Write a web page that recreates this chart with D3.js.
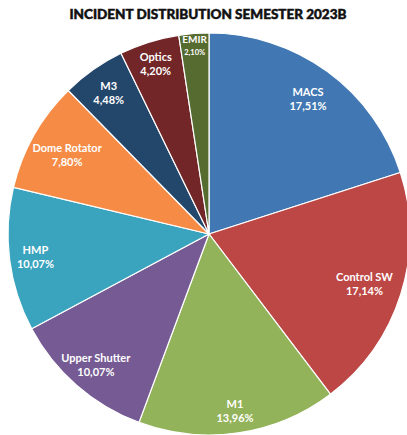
<!DOCTYPE html>
<html lang="en">
<head>
    <meta charset="UTF-8">
    <title>Incident distribution</title>
    <style>
        body { margin: 0; background: #fff; }
        #title {
            font-family: Lato, "DejaVu Sans", sans-serif;
            font-weight: 900;
            font-size: 13.5px;
            fill: #111;
            stroke: #111;
            stroke-width: 0.5;
            text-anchor: middle;
        }
        .slice { stroke: #fff; stroke-width: 1.2; }
        .lbl {
            font-family: Lato, "Open Sans", sans-serif;
            font-weight: bold;
            font-size: 11px;
            fill: #fff;
            text-anchor: middle;
        }
    </style>
</head>
<body>
<div id="chart"></div>
<script src="https://cdn.jsdelivr.net/npm/d3@7"></script>
<script>
    // data (percentages as shown, pie is normalised to their sum)
    let categories = ["MACS", "Control SW", "M1", "Upper Shutter", "HMP", "Dome Rotator", "M3", "Optics", "EMIR"];
    let values = [17.51, 17.14, 13.96, 10.07, 10.07, 7.80, 4.48, 4.20, 2.10];
    let valueLabels = ["17,51%", "17,14%", "13,96%", "10,07%", "10,07%", "7,80%", "4,48%", "4,20%", "2,10%"];
    let colors = ["#4177b2", "#bd4745", "#93b35a", "#765a94", "#3aa3be", "#f68b45", "#23466b", "#722628", "#556b2f"];

    function drawPie(id) {
        let W = 407, H = 435;
        let cx = 209, cy = 234, R = 201;
        let svg = d3.select(id).append("svg")
            .attr("width", W)
            .attr("height", H);

        svg.append("text")
            .attr("id", "title")
            .attr("x", 208)
            .attr("y", 19)
            .text("INCIDENT DISTRIBUTION SEMESTER 2023B");

        let pie = d3.pie().sort(null);
        let arc = d3.arc().innerRadius(0).outerRadius(R);
        let arcs = pie(values);

        let g = svg.append("g")
            .attr("transform", "translate(" + cx + "," + cy + ")");

        g.selectAll("path")
            .data(arcs)
            .enter()
            .append("path")
            .attr("class", "slice")
            .attr("fill", (d, i) => colors[i])
            .attr("d", arc);

        // excel "best fit" puts labels at slightly different depths
        let depth = {"MACS": 168, "Control SW": 163, "M1": 178, "Upper Shutter": 172, "HMP": 175,
            "Dome Rotator": 163, "Optics": 179, "EMIR": 190};
        let lbls = g.selectAll("g.l")
            .data(arcs)
            .enter()
            .append("g")
            .attr("class", "l")
            .attr("transform", function (d, i) {
                let r = depth[categories[i]] || 174;
                let a = (d.startAngle + d.endAngle) / 2;
                return "translate(" + (r * Math.sin(a)) + "," + (-r * Math.cos(a)) + ")";
            });
        lbls.append("text")
            .attr("class", "lbl")
            .attr("y", -2)
            .style("font-size", (d, i) => categories[i] === "EMIR" ? "10px" : null)
            .text((d, i) => categories[i]);
        lbls.append("text")
            .attr("class", "lbl")
            .attr("y", (d, i) => categories[i] === "EMIR" ? 10 : 12)
            .style("font-size", (d, i) => categories[i] === "EMIR" ? "7.5px" : null)
            .text((d, i) => valueLabels[i]);
    }

    drawPie("#chart");
</script>
</body>
</html>
